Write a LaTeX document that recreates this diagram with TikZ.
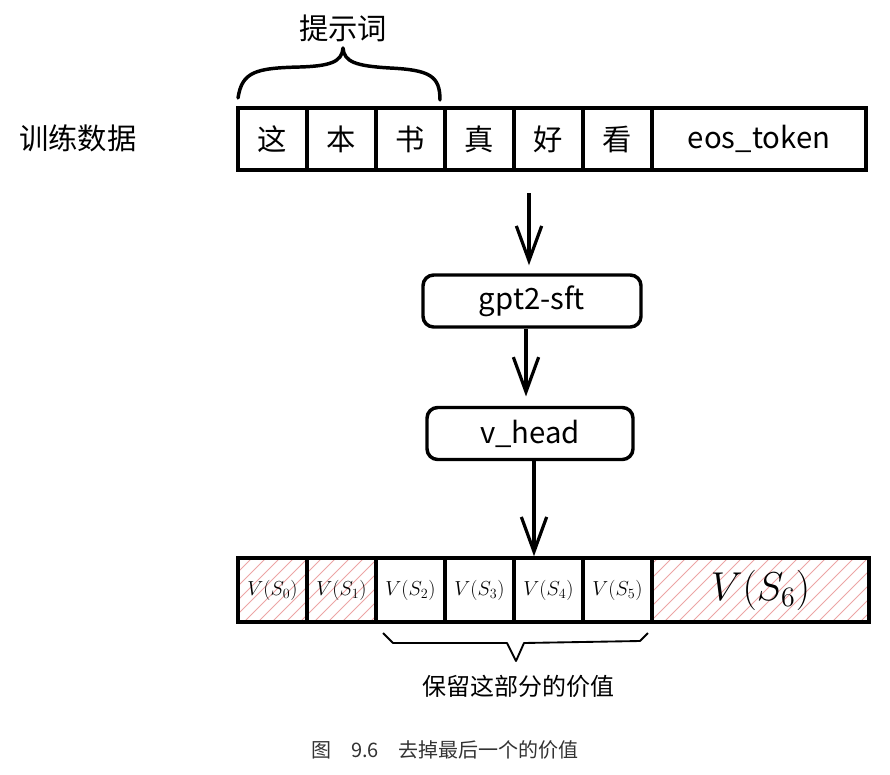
\documentclass[tikz,border=0pt]{standalone}
\usepackage{amsmath}
\usepackage{graphicx}
\usepackage{fontspec}
\setmainfont{Noto Sans CJK SC}
\usepackage{tikz}
\usetikzlibrary{positioning, arrows.meta}
\definecolor{hatchpink}{RGB}{236,165,165}

\begin{document}
\begin{tikzpicture}[
  x=0.75pt, y=-0.75pt,
  tok/.style={draw, line width=2.6pt, minimum width=51.75pt, minimum height=46.5pt, inner sep=0pt,
    font=\fontsize{22}{26}\selectfont},
  val/.style={tok, minimum height=48pt, font=\fontsize{17.28}{20}\selectfont},
  model/.style={draw, line width=2.6pt, rounded corners=8pt, minimum height=39pt, inner sep=0pt,
    font=\fontsize{22}{26}\selectfont},
  arr/.style={line width=2.4pt, -{Straight Barb[length=26pt,width=19pt,line width=2.4pt]}},
  brace/.style={line width=2.6pt, line cap=round, line join=round},
  hatch/.style={hatchpink, line width=0.7pt}
]
\useasboundingbox (0,0) rectangle (890,775);

% training data row
\node[font=\fontsize{22}{26}\selectfont] (data) at (78,138) {训练数据};
\foreach \c [count=\i] in {这,本,书,真,好,看}
  \node[tok] (w\i) at ({203.5+69*\i},139) {\c};
\node[tok, minimum width=160.5pt] (eos) at (759,139) {eos\_token};

% prompt brace
\node[font=\fontsize{22}{26}\selectfont] (prompt) at (343,28) {提示词};
\draw[brace] (238,98) .. controls (242,72) and (255,68) .. (300,67)
  .. controls (330,66) and (342,62) .. (343,48)
  .. controls (344,62) and (356,66) .. (390,68)
  .. controls (430,70) and (440,76) .. (440,100);

% model
\node[model, minimum width=163.5pt] (gpt) at (532,301) {gpt2-sft};
\node[model, minimum width=154.5pt] (vhead) at (530,433.5) {v\_head};

\coordinate (a1) at (529,193);
\draw[arr] (a1) -- ([yshift=6pt]a1 |- gpt.north);
\draw[arr] (gpt.south -| 526,0) -- ([yshift=7pt]vhead.north -| 526,0);

% hatching of the dropped values
\begin{scope}
  \clip (238,558) rectangle (376,622) (652,558) rectangle (870,622);
  \foreach \h in {0,14,...,700}
    \draw[hatch] ({\h+174},622) -- ({\h+238},558);
\end{scope}

% values row
\foreach \i in {0,...,5}
  \node[val] (v\i) at ({272.5+69*\i},590) {\scalebox{0.88}{$V(S_{\i})$}};
\node[val, minimum width=162.75pt] (v6) at (760.5,590) {\scalebox{1.75}{$V(S_6)$}};

\draw[arr] (vhead.south -| 534,0) -- (v4.north -| 534,0);

% kept part
\draw[line width=1.4pt, line join=round] (383,633) -- (393,643) -- (507,643) -- (516,661)
  -- (524,643) -- (640,641) -- (648,633);
\node[font=\fontsize{18}{22}\selectfont] (keeplab) at (518,686) {保留这部分的价值};

\node[font=\fontsize{15}{18}\selectfont, text=black!80] (cap) at (445,750) {图\quad 9.6\quad 去掉最后一个的价值};
\end{tikzpicture}
\end{document}
